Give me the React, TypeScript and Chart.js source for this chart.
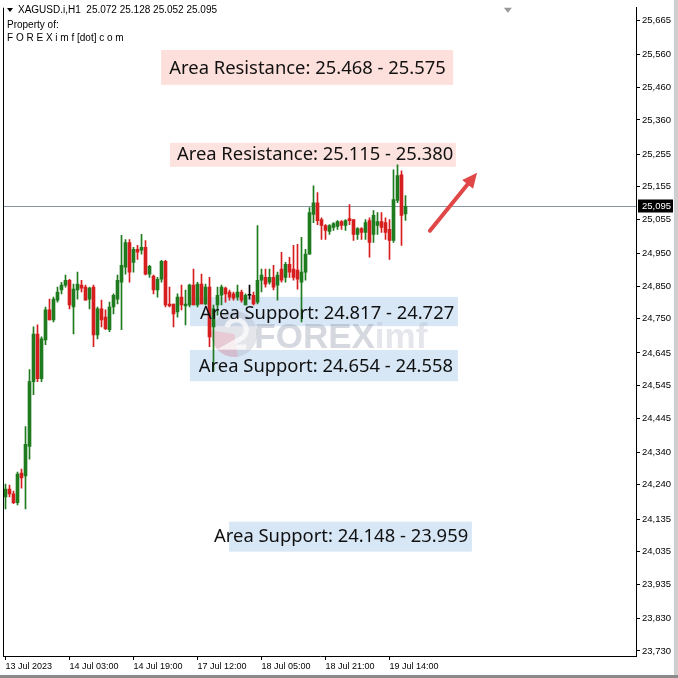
import { useEffect, useRef } from 'react';
import { Chart, registerables } from 'chart.js';

Chart.register(...registerables);

// ---------- DATA ----------
const symbolTitle = 'XAGUSD.i,H1';
const ownerLine1 = 'Property of:';
const ownerLine2 = 'F O R E X i m f [dot] c o m';

const opens = [
  24.203, 24.227, 24.212, 24.185, 24.276, 24.267, 24.358, 24.557, 24.703, 24.566,
  24.685, 24.777, 24.746, 24.807, 24.838, 24.853, 24.868, 24.786, 24.838, 24.853,
  24.847, 24.810, 24.847, 24.700, 24.780, 24.755, 24.716, 24.786, 24.810, 24.862,
  24.908, 24.984, 24.923, 24.963, 24.960, 24.969, 24.887, 24.881, 24.838, 24.871,
  24.926, 24.795, 24.795, 24.771, 24.816, 24.789, 24.792, 24.853, 24.792, 24.856,
  24.795, 24.847, 24.725, 24.792, 24.822, 24.844, 24.832, 24.826, 24.816, 24.832,
  24.792, 24.822, 24.822, 24.801, 24.868, 24.877, 24.862, 24.877, 24.853, 24.902,
  24.877, 24.917, 24.902, 24.899, 24.862, 24.893, 24.948, 25.070, 25.106, 25.054,
  25.036, 25.018, 25.030, 25.033, 25.048, 25.036, 25.057, 25.054, 25.009, 25.027,
  25.015, 25.051, 25.009, 25.036, 25.048, 25.045, 25.024, 24.990, 25.113, 25.192,
  25.072,
];
const highs = [
  24.242, 24.239, 24.221, 24.279, 24.288, 24.419, 24.594, 24.725, 24.731, 24.694,
  24.786, 24.810, 24.816, 24.847, 24.862, 24.884, 24.871, 24.856, 24.893, 24.868,
  24.853, 24.847, 24.853, 24.786, 24.807, 24.777, 24.801, 24.826, 24.884, 25.006,
  24.993, 24.993, 24.969, 24.975, 25.009, 24.990, 24.914, 24.884, 24.877, 24.929,
  24.929, 24.847, 24.795, 24.826, 24.853, 24.838, 24.856, 24.902, 24.862, 24.887,
  24.856, 24.877, 24.792, 24.847, 24.853, 24.847, 24.838, 24.832, 24.853, 24.838,
  24.826, 24.853, 24.832, 25.036, 24.902, 24.902, 24.902, 24.914, 24.893, 24.954,
  24.923, 24.938, 24.975, 24.978, 25.000, 24.963, 25.091, 25.158, 25.137, 25.060,
  25.039, 25.039, 25.045, 25.051, 25.051, 25.054, 25.100, 25.054, 25.030, 25.030,
  25.054, 25.060, 25.082, 25.076, 25.076, 25.060, 25.054, 25.207, 25.222, 25.204,
  25.128,
];
const lows = [
  24.166, 24.203, 24.182, 24.178, 24.230, 24.166, 24.319, 24.517, 24.557, 24.557,
  24.670, 24.746, 24.740, 24.801, 24.826, 24.847, 24.780, 24.703, 24.810, 24.832,
  24.807, 24.780, 24.664, 24.688, 24.725, 24.716, 24.710, 24.765, 24.795, 24.716,
  24.887, 24.862, 24.893, 24.932, 24.948, 24.884, 24.877, 24.826, 24.816, 24.862,
  24.786, 24.786, 24.725, 24.755, 24.777, 24.731, 24.786, 24.792, 24.786, 24.795,
  24.792, 24.664, 24.588, 24.761, 24.792, 24.801, 24.807, 24.807, 24.807, 24.801,
  24.792, 24.810, 24.792, 24.795, 24.832, 24.847, 24.856, 24.838, 24.807, 24.862,
  24.862, 24.877, 24.868, 24.841, 24.740, 24.868, 24.948, 25.045, 25.039, 24.993,
  24.993, 25.009, 25.021, 25.024, 25.024, 25.021, 25.039, 24.990, 24.993, 24.993,
  24.993, 24.939, 24.984, 25.009, 25.015, 24.993, 24.932, 24.984, 25.106, 24.975,
  25.052,
];
const closes = [
  24.227, 24.212, 24.185, 24.273, 24.261, 24.364, 24.557, 24.703, 24.566, 24.688,
  24.777, 24.746, 24.810, 24.832, 24.853, 24.868, 24.792, 24.841, 24.856, 24.844,
  24.807, 24.844, 24.700, 24.780, 24.746, 24.719, 24.786, 24.822, 24.868, 24.914,
  24.984, 24.893, 24.963, 24.954, 24.969, 24.887, 24.911, 24.838, 24.871, 24.926,
  24.792, 24.789, 24.765, 24.816, 24.792, 24.795, 24.853, 24.792, 24.856, 24.795,
  24.847, 24.694, 24.780, 24.822, 24.847, 24.826, 24.816, 24.813, 24.832, 24.807,
  24.822, 24.822, 24.795, 24.868, 24.884, 24.856, 24.877, 24.847, 24.884, 24.868,
  24.917, 24.893, 24.877, 24.871, 24.893, 24.948, 25.076, 25.106, 25.051, 25.036,
  25.021, 25.036, 25.042, 25.048, 25.036, 25.051, 25.051, 25.009, 25.027, 25.015,
  25.045, 24.984, 25.067, 25.048, 25.030, 25.015, 24.990, 25.116, 25.189, 25.067,
  25.095,
];

const xTickBars = [0, 16, 32, 48, 64, 80, 96];
const xTickLabels = ['13 Jul 2023', '14 Jul 03:00', '14 Jul 19:00', '17 Jul 12:00', '18 Jul 05:00', '18 Jul 21:00', '19 Jul 14:00'];
const yTickValues = [
  25.665, 25.56, 25.46, 25.36, 25.255, 25.155, 25.055, 24.95, 24.85, 24.75,
  24.645, 24.545, 24.445, 24.34, 24.24, 24.135, 24.035, 23.935, 23.83, 23.73,
];

const zoneTexts = [
  'Area Resistance: 25.468 - 25.575',
  'Area Resistance: 25.115 - 25.380',
  'Area Support: 24.817 - 24.727',
  'Area Support: 24.654 - 24.558',
  'Area Support: 24.148 - 23.959',
];
const zoneFrom = [25.468, 25.115, 24.817, 24.654, 24.148];
const zoneTo = [25.575, 25.38, 24.727, 24.558, 23.959];

// ---------- LAYOUT / STYLE (positions in bar index / price units) ----------
const zoneLayout = [
  { x0: 38.9, x1: 111.9, band: true, boxH: 0, labelBar: 75.5, labelPrice: 25.518, fill: '#fde0dc' },
  { x0: 41.1, x1: 112.6, band: false, boxH: 24, labelBar: 77.4, labelPrice: 25.253, fill: '#fde3df' },
  { x0: 46.1, x1: 113.1, band: true, boxH: 0, labelBar: 80.4, labelPrice: 24.764, fill: '#d7e7f6' },
  { x0: 46.1, x1: 113.1, band: true, boxH: 0, labelBar: 80.1, labelPrice: 24.603, fill: '#d7e7f6' },
  { x0: 55.9, x1: 116.6, band: false, boxH: 30, labelBar: 83.9, labelPrice: 24.081, fill: '#d7e7f6' },
];
const arrowFrom = { bar: 106.1, price: 25.02 };
const arrowTo = { bar: 117.9, price: 25.198 };
const watermarkLogo = { bar: 57.2, price: 24.703 };
const watermarkText = { bar: 62.2, price: 24.66 };
const shiftMarkerBar = 125.6;
const visibleBars = 158;
const yMin = 23.7145;
const yMax = 25.7047;

const GREEN = '#1e7b1e';
const RED = '#d61e1e';
const DOJI = '#000000';
const AXIS_FONT = '"Liberation Sans", Arial, sans-serif';

const candleColor = (i: number) =>
  closes[i] > opens[i] ? GREEN : closes[i] < opens[i] ? RED : DOJI;
const fmtAxis = (v: number) => v.toFixed(3).replace('.', ',');

const mtPlugin = {
  id: 'mt4decor',
  beforeDraw(chart: any) {
    const { ctx, width, height } = chart;
    ctx.save();
    ctx.fillStyle = '#ffffff';
    ctx.fillRect(0, 0, width, height);
    ctx.restore();
  },
  beforeDatasetsDraw(chart: any) {
    const { ctx, chartArea: a, scales } = chart;
    const x = scales.x, y = scales.y;
    ctx.save();
    ctx.beginPath();
    ctx.rect(a.left, a.top, a.right - a.left, a.bottom - a.top);
    ctx.clip();
    // zones / label backgrounds
    zoneLayout.forEach((z, k) => {
      const x0 = x.getPixelForValue(z.x0);
      const x1 = x.getPixelForValue(z.x1);
      let y0: number, y1: number;
      if (z.band) {
        y0 = y.getPixelForValue(Math.max(zoneFrom[k], zoneTo[k]));
        y1 = y.getPixelForValue(Math.min(zoneFrom[k], zoneTo[k]));
      } else {
        const cy = y.getPixelForValue(z.labelPrice);
        y0 = cy - z.boxH / 2;
        y1 = cy + z.boxH / 2;
      }
      ctx.fillStyle = z.fill;
      ctx.fillRect(x0, y0, x1 - x0, y1 - y0);
    });
    // watermark
    const lx = x.getPixelForValue(watermarkLogo.bar);
    const ly = y.getPixelForValue(watermarkLogo.price);
    ctx.globalAlpha = 0.3;
    ctx.fillStyle = '#a4aabb';
    ctx.beginPath();
    ctx.arc(lx, ly, 23, 0, Math.PI * 2);
    ctx.fill();
    ctx.fillStyle = '#f08ca0';
    ctx.beginPath();
    ctx.moveTo(lx, ly);
    ctx.arc(lx, ly, 23, Math.PI * 0.45, Math.PI * 1.05);
    ctx.closePath();
    ctx.fill();
    ctx.globalAlpha = 0.7;
    ctx.strokeStyle = '#ffffff';
    ctx.lineWidth = 5;
    ctx.beginPath();
    ctx.arc(lx + 2, ly - 4, 10, Math.PI * 1.1, Math.PI * 0.25);
    ctx.lineTo(lx - 8, ly + 13);
    ctx.lineTo(lx + 12, ly + 13);
    ctx.stroke();
    ctx.globalAlpha = 0.35;
    const tx = x.getPixelForValue(watermarkText.bar);
    const ty = y.getPixelForValue(watermarkText.price);
    ctx.font = 'bold 35px "Liberation Sans", Arial, sans-serif';
    ctx.textAlign = 'left';
    ctx.textBaseline = 'alphabetic';
    ctx.fillStyle = '#8a90a3';
    ctx.fillText('FOREX', tx, ty);
    const w = ctx.measureText('FOREX').width;
    ctx.fillStyle = '#b3b8c6';
    ctx.fillText('imf', tx + w, ty);
    ctx.globalAlpha = 1;
    // bid line
    const py = Math.round(y.getPixelForValue(closes[closes.length - 1])) + 0.5;
    ctx.strokeStyle = '#8795a2';
    ctx.lineWidth = 1;
    ctx.beginPath();
    ctx.moveTo(a.left, py);
    ctx.lineTo(a.right, py);
    ctx.stroke();
    ctx.restore();
  },
  afterDatasetsDraw(chart: any) {
    const { ctx, scales } = chart;
    const x = scales.x, y = scales.y;
    ctx.save();
    ctx.font = '18.4px "Noto Sans", "Liberation Sans", sans-serif';
    ctx.textAlign = 'center';
    ctx.textBaseline = 'middle';
    ctx.fillStyle = '#111111';
    zoneLayout.forEach((z, k) => {
      ctx.fillText(zoneTexts[k], x.getPixelForValue(z.labelBar), y.getPixelForValue(z.labelPrice));
    });
    // arrow
    const ax0 = x.getPixelForValue(arrowFrom.bar), ay0 = y.getPixelForValue(arrowFrom.price);
    const ax1 = x.getPixelForValue(arrowTo.bar), ay1 = y.getPixelForValue(arrowTo.price);
    const ang = Math.atan2(ay1 - ay0, ax1 - ax0);
    const c = Math.cos(ang), s = Math.sin(ang);
    const headLen = 15, headHalf = 7;
    ctx.strokeStyle = '#e04848';
    ctx.fillStyle = '#e04848';
    ctx.lineWidth = 4;
    ctx.lineCap = 'round';
    ctx.beginPath();
    ctx.moveTo(ax0, ay0);
    ctx.lineTo(ax1 - c * (headLen - 2), ay1 - s * (headLen - 2));
    ctx.stroke();
    ctx.beginPath();
    ctx.moveTo(ax1, ay1);
    ctx.lineTo(ax1 - c * headLen - s * headHalf, ay1 - s * headLen + c * headHalf);
    ctx.lineTo(ax1 - c * headLen + s * headHalf, ay1 - s * headLen - c * headHalf);
    ctx.closePath();
    ctx.fill();
    ctx.restore();
  },
  afterDraw(chart: any) {
    const { ctx, chartArea: a, scales, width, height } = chart;
    const x = scales.x, y = scales.y;
    ctx.save();
    // left border
    ctx.fillStyle = '#000000';
    ctx.fillRect(Math.round(a.left) - 1, a.top, 1, a.bottom - a.top + 1);
    // shift marker
    const sx = x.getPixelForValue(shiftMarkerBar);
    ctx.fillStyle = '#9a9a9a';
    ctx.beginPath();
    ctx.moveTo(sx - 4, a.top);
    ctx.lineTo(sx + 4, a.top);
    ctx.lineTo(sx, a.top + 5);
    ctx.closePath();
    ctx.fill();
    // price label box
    const last = closes[closes.length - 1];
    const py = Math.round(y.getPixelForValue(last)) + 0.5;
    ctx.fillStyle = '#000000';
    ctx.fillRect(a.right + 2, py - 7, 35, 13);
    ctx.fillStyle = '#ffffff';
    ctx.font = '9.5px ' + AXIS_FONT;
    ctx.textAlign = 'left';
    ctx.textBaseline = 'middle';
    ctx.fillText(fmtAxis(last), a.right + 6, py);
    // header
    ctx.fillStyle = '#000000';
    ctx.beginPath();
    ctx.moveTo(7, 8);
    ctx.lineTo(13, 8);
    ctx.lineTo(10, 12);
    ctx.closePath();
    ctx.fill();
    const n = opens.length - 1;
    ctx.font = '10px ' + AXIS_FONT;
    ctx.textBaseline = 'middle';
    ctx.fillText(
      `${symbolTitle}  ${opens[n].toFixed(3)} ${highs[n].toFixed(3)} ${lows[n].toFixed(3)} ${closes[n].toFixed(3)}`,
      18, 10.5);
    ctx.fillText(ownerLine1, 7, 25.5);
    ctx.fillText(ownerLine2, 7, 38.5);
    // window frame
    ctx.fillStyle = '#cfcfcf';
    ctx.fillRect(width - 4, 0, 4, height);
    ctx.fillStyle = '#8a8a8a';
    ctx.fillRect(0, height - 3, width, 3);
    ctx.restore();
  },
};

export default function App() {
  const ref = useRef<HTMLCanvasElement>(null);
  useEffect(() => {
    document.body.style.margin = '0';
    const canvas = ref.current!;
    const colors = opens.map((_, i) => candleColor(i));
    const chart = new Chart(canvas, {
      type: 'bar',
      data: {
        datasets: [
          {
            label: 'body',
            data: opens.map((o, i) => ({ x: i, y: [Math.min(o, closes[i]), Math.max(o, closes[i])] })) as any,
            backgroundColor: colors,
            barThickness: 3,
            minBarLength: 1,
            grouped: false,
            borderWidth: 0,
            order: 1,
          } as any,
          {
            label: 'wick',
            data: lows.map((l, i) => ({ x: i, y: [l, highs[i]] })) as any,
            backgroundColor: colors,
            barThickness: 1,
            grouped: false,
            borderWidth: 0,
            order: 2,
          } as any,
        ],
      },
      options: {
        responsive: false,
        animation: false,
        devicePixelRatio: 1,
        layout: { padding: { left: 4, top: 4, right: 6, bottom: 5 } },
        plugins: { legend: { display: false }, tooltip: { enabled: false } },
        scales: {
          x: {
            type: 'linear',
            min: -0.375,
            max: visibleBars - 0.375,
            bounds: 'data',
            offset: false,
            grid: { display: true, drawOnChartArea: false, drawTicks: true, tickLength: 4, color: '#000000', offset: false },
            border: { display: true, color: '#000000', width: 1 },
            ticks: {
              autoSkip: false,
              maxRotation: 0,
              minRotation: 0,
              align: 'start',
              padding: 1,
              color: '#000000',
              font: { family: AXIS_FONT, size: 9 },
              callback: (v: any) => {
                const k = xTickBars.indexOf(Number(v));
                return k >= 0 ? xTickLabels[k] : '';
              },
            },
            afterBuildTicks: (s: any) => {
              s.ticks = xTickBars.map((v) => ({ value: v }));
            },
            afterFit: (s: any) => {
              s.height = 17;
            },
          } as any,
          y: {
            type: 'linear',
            position: 'right',
            min: yMin,
            max: yMax,
            bounds: 'data',
            grid: { display: true, drawOnChartArea: false, drawTicks: true, tickLength: 4, color: '#000000' },
            border: { display: true, color: '#000000', width: 1 },
            ticks: {
              padding: 2,
              color: '#000000',
              font: { family: AXIS_FONT, size: 9.5 },
              callback: (v: any) => fmtAxis(Number(v)),
            },
            afterBuildTicks: (s: any) => {
              s.ticks = yTickValues.map((v) => ({ value: v }));
            },
            afterFit: (s: any) => {
              s.width = 36;
            },
          } as any,
        },
      },
      plugins: [mtPlugin],
    });
    return () => chart.destroy();
  }, []);
  return (
    <div style={{ width: 678, height: 678 }}>
      <canvas ref={ref} width={678} height={678} style={{ display: 'block' }} />
    </div>
  );
}
